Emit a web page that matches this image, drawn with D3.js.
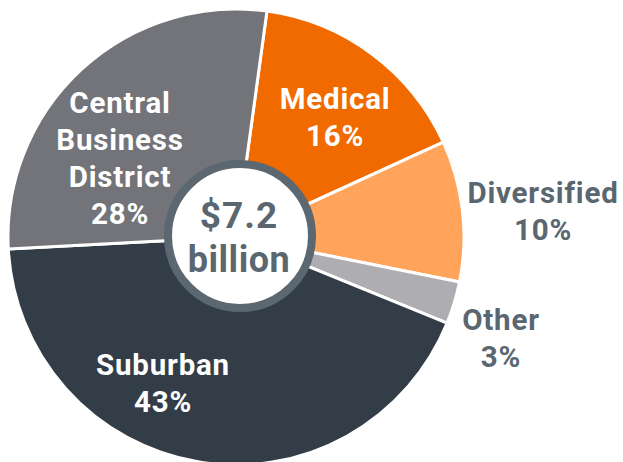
<!DOCTYPE html>
<html><head><meta charset="utf-8">
<script src="https://cdn.jsdelivr.net/npm/d3@7"></script>
<style>html,body{margin:0;padding:0;background:#fff;}svg{display:block;}</style>
</head><body>
<svg id="c" width="623" height="462"></svg>
<script>
const categories = ["Medical", "Diversified", "Other", "Suburban", "Central Business District"];
const values = [16, 10, 3, 43, 28];
const colors = ["#F06A00", "#FFA45A", "#AEADB2", "#333D47", "#737479"];
const labelLines = [["Medical","16%"],["Diversified","10%"],["Other","3%"],["Suburban","43%"],["Central","Business","District","28%"]];
const totalLabel = ["$7.2", "billion"];

const svg = d3.select("#c");
const cx = 236, cy = 237, R = 228;
const start = 7.8 * Math.PI / 180;
const pie = d3.pie().sort(null).value(d => d).startAngle(start).endAngle(start + 2 * Math.PI);
const arcs = pie(values);
const arc = d3.arc().innerRadius(0).outerRadius(R);
const g = svg.append("g").attr("transform", `translate(${cx},${cy})`);
g.selectAll("path").data(arcs).join("path")
  .attr("d", arc).attr("fill", (d, i) => colors[i])
  .attr("stroke", "#fff").attr("stroke-width", 3).attr("stroke-linejoin", "round");

const labelPos = [
  {x: 335, y: 109, fill: "#fff"},
  {x: 543, y: 203, fill: "#5A6670"},
  {x: 501, y: 330, fill: "#5A6670"},
  {x: 163, y: 375, fill: "#fff"},
  {x: 120, y: 113, fill: "#fff"}
];
const font = "Roboto, 'DejaVu Sans', sans-serif";
labelLines.forEach((lines, i) => {
  const p = labelPos[i];
  const t = svg.append("text").attr("x", p.x).attr("y", p.y)
    .attr("text-anchor", "middle").attr("fill", p.fill)
    .attr("font-family", font).attr("font-weight", 700).attr("font-size", 29.5)
    .attr("letter-spacing", 0.8);
  lines.forEach((l, j) => t.append("tspan").attr("x", p.x).attr("y", p.y + j * 37).text(l));
});

svg.append("circle").attr("cx", 240).attr("cy", 236).attr("r", 72)
  .attr("fill", "#fff").attr("stroke", "#5B6771").attr("stroke-width", 8);
svg.append("text").attr("x", 239).attr("y", 228).attr("text-anchor", "middle")
  .attr("fill", "#5A6670").attr("font-family", font).attr("font-weight", 700)
  .attr("font-size", 37).attr("letter-spacing", 1).text(totalLabel[0]);
svg.append("text").attr("x", 239).attr("y", 272).attr("text-anchor", "middle")
  .attr("fill", "#5A6670").attr("font-family", font).attr("font-weight", 700)
  .attr("font-size", 36).attr("letter-spacing", 0.5).text(totalLabel[1]);
</script>
</body></html>
